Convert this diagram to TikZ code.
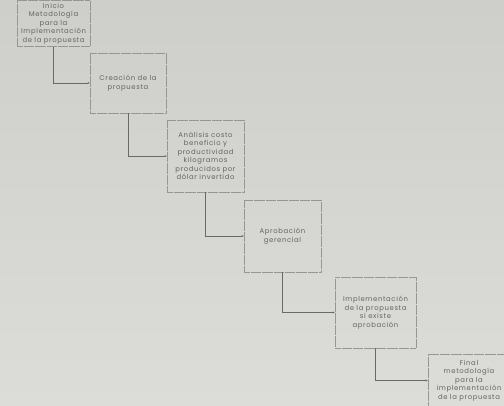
\documentclass[tikz,border=0pt]{standalone}
\usepackage{fontspec}
\setmainfont{Poppins}[LetterSpace=9]
\usetikzlibrary{arrows.meta}

\definecolor{paper}{RGB}{220,220,217}
\definecolor{papertop}{RGB}{206,206,202}
\definecolor{ink}{RGB}{100,100,100}
\definecolor{rule}{RGB}{150,150,150}
\definecolor{wire}{RGB}{105,105,105}

\tikzset{
  stage/.style={draw=rule, line width=0.5pt, dash pattern=on 0.6pt off 0.5pt,
    inner sep=0pt, text=ink, align=center,
    font=\fontsize{6.9}{8.5}\selectfont},
  link/.style={draw=wire, line width=0.5pt,
    -{Stealth[length=2.2pt,width=2pt]}},
}

\begin{document}
\begin{tikzpicture}[x=1bp,y=-1bp]
  % page background
  \shade[top color=papertop, bottom color=paper] (0,0) rectangle (504,405);
  \useasboundingbox (0,0) rectangle (504,405);

  % process stages
  \node[stage, minimum width=73bp, minimum height=46bp] (s1) at (53.5,23.5)
    {Inicio\\Metodología\\para la\\Implementación\\de la propuesta};
  \node[stage, minimum width=76bp, minimum height=60bp] (s2) at (128,83)
    {Creación de la\\propuesta};
  \node[stage, minimum width=77bp, minimum height=72bp] (s3) at (205.5,156)
    {Análisis costo\\beneficio y\\productividad\\kilogramos\\producidos por\\dólar invertido};
  \node[stage, minimum width=77bp, minimum height=72bp] (s4) at (282.5,236)
    {Aprobación\\gerencial};
  \node[stage, minimum width=81bp, minimum height=71bp] (s5) at (375.5,312.5)
    {Implementación\\de la propuesta\\si existe\\aprobación};
  \node[stage, minimum width=82bp, minimum height=52bp] (s6) at (469,380.5)
    {Final\\metodología\\para la\\implementación\\de la propuesta};

  % step-down connectors
  \draw[link] (s1.south) |- (s2.west);
  \draw[link] (s2.south) |- (s3.west);
  \draw[link] (s3.south) |- (s4.west);
  \draw[link] (s4.south) |- (s5.west);
  \draw[link] (s5.south) |- (s6.west);
\end{tikzpicture}
\end{document}
